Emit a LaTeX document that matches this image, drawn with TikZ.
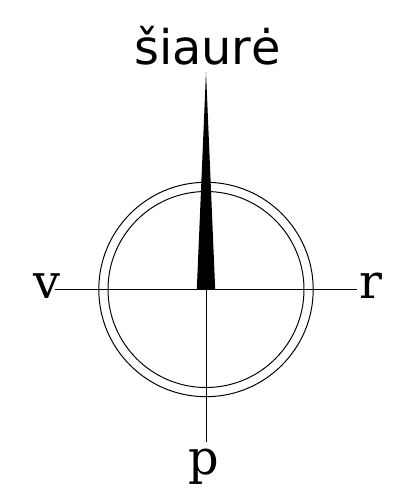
\documentclass[tikz,border=0pt]{standalone}
\usepackage{fontspec}
\setmainfont{DejaVu Serif}
\setsansfont{DejaVu Sans}
\usepackage{xcolor}
\usepackage{tikz}

\begin{document}
\begin{tikzpicture}[font=\fontsize{34}{40}\selectfont,
  ring/.style={draw, line width=0.7pt},
  axis/.style={draw, line width=0.65pt},
  label/.style={inner sep=0pt, anchor=base}]
\useasboundingbox (-5.15,-5.0875) rectangle (4.975,7.2375);
\coordinate (o) at (0,0);
\coordinate (vend) at (-3.775,0);
\coordinate (rend) at (3.775,0);
\coordinate (pend) at (0,-3.8);
\coordinate (tip) at (0,5.44);
\coordinate (bl) at (-0.23,0);
\coordinate (br) at (0.23,0);
\node[label, font=\fontsize{34}{40}\selectfont\sffamily] (n) at (0.04,5.62) {šiaurė};
\node[label] (v) at (-3.975,-0.22) {v};
\node[label] (r) at (4.13,-0.22) {r};
\node[label] (p) at (-0.06,-4.62) {p};
\draw[ring] (o) circle (2.68);
\draw[ring] (o) circle (2.45);
\draw[axis] (vend) -- (rend);
\draw[axis] (o) -- (pend);
\fill (tip) -- (br) -- (bl) -- cycle;
\end{tikzpicture}
\end{document}
